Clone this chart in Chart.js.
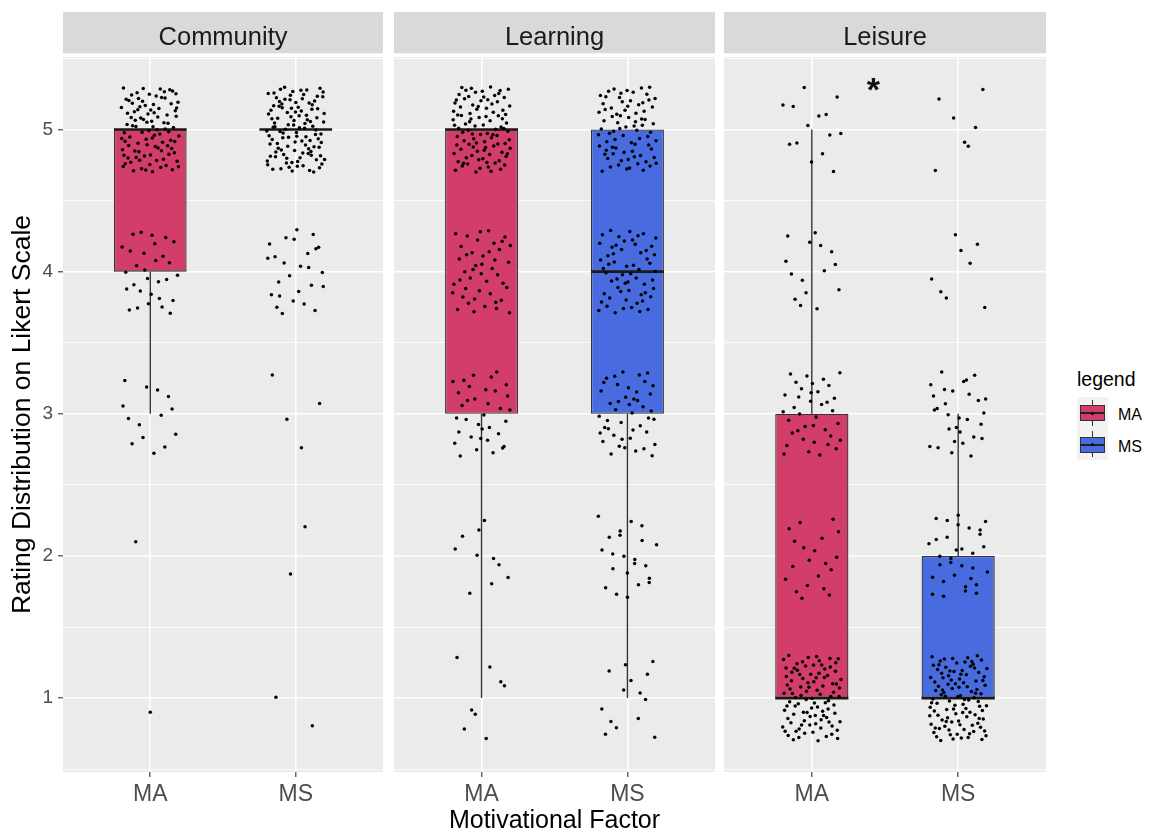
<!DOCTYPE html>
<html lang="en">
<head>
<meta charset="utf-8">
<title>Rating Distribution by Motivational Factor</title>
<script src="https://cdn.jsdelivr.net/npm/chart.js@4.4.1/dist/chart.umd.min.js"></script>
<style>
  html, body { margin: 0; padding: 0; background: #ffffff; }
  body { position: relative; width: 1153px; height: 834px; overflow: hidden;
         font-family: 'Liberation Sans', Arial, Helvetica, sans-serif; }
  canvas { position: absolute; top: 12px; }
  .lg { position: absolute; box-sizing: border-box; }
  .lg-text { position: absolute; color: #000; white-space: nowrap; }
</style>
</head>
<body>
<canvas id="facet0" width="383" height="822" style="left:0px"></canvas>
<canvas id="facet1" width="321" height="822" style="left:394px"></canvas>
<canvas id="facet2" width="322" height="822" style="left:724px"></canvas>
<div id="legend"></div>
<script>
// ---- data ---------------------------------------------------------------
const facets = ['Community', 'Learning', 'Leisure'];
const groups = ['MA', 'MS'];
const ratingLevels = [1, 2, 3, 4, 5];

// number of responses at each rating level 1..5
const communityMA = [1, 1, 14, 30, 100];
const communityMS = [2, 2, 4, 26, 112];
const learningMA  = [8, 10, 35, 45, 100];
const learningMS  = [14, 22, 45, 60, 80];
const leisureMA   = [98, 20, 38, 15, 14];
const leisureMS   = [108, 32, 30, 8, 7];

const yMajorTicks = [1, 2, 3, 4, 5];
const yMinorTicks = [0.5, 1.5, 2.5, 3.5, 4.5, 5.5];

// significance marker shown in the Leisure facet
const starLabel = '*';
const starFacet = 2;

// ---- styling --------------------------------------------------------------
const FONT = "'Liberation Sans', Arial, Helvetica, sans-serif";
const groupColors = ['#d23d69', '#486ce0'];
const PANEL_BG = '#ebebeb';
const STRIP_BG = '#d9d9d9';
const LINE_DARK = '#333333';
const JITTER_W = 0.2;   // horizontal jitter, category units
const JITTER_H = 0.3;   // vertical jitter, rating units
const BOX_HALF = 0.25;  // half box width, category units

const facetCounts = [
  [communityMA, communityMS],
  [learningMA, learningMS],
  [leisureMA, leisureMS]
];

// ---- boxplot statistics -------------------------------------------------
function expandCounts(counts) {
  const out = [];
  counts.forEach((n, i) => { for (let k = 0; k < n; k++) out.push(ratingLevels[i]); });
  return out;
}
function quantile(sorted, p) {
  const h = (sorted.length - 1) * p;
  const lo = Math.floor(h), hi = Math.ceil(h);
  return sorted[lo] + (h - lo) * (sorted[hi] - sorted[lo]);
}
function boxStats(counts) {
  const v = expandCounts(counts);
  const q1 = quantile(v, 0.25), med = quantile(v, 0.5), q3 = quantile(v, 0.75);
  const iqr = q3 - q1;
  const lo = Math.min(...v.filter(x => x >= q1 - 1.5 * iqr));
  const hi = Math.max(...v.filter(x => x <= q3 + 1.5 * iqr));
  return { q1, med, q3, lo, hi };
}

// ---- deterministic jitter (Halton sequence) -------------------------------
function halton(i, base) {
  let f = 1, r = 0;
  while (i > 0) { f /= base; r += f * (i % base); i = Math.floor(i / base); }
  return r;
}
let jitterIndex = 1;
function jitterPoints(counts, xPos) {
  const pts = [];
  counts.forEach((n, li) => {
    for (let k = 0; k < n; k++) {
      const j = jitterIndex++;
      pts.push({
        x: xPos + (halton(j, 2) - 0.5) * 2 * JITTER_W,
        y: ratingLevels[li] + (halton(j, 3) - 0.5) * 2 * JITTER_H
      });
    }
  });
  return pts;
}

// ---- plugins --------------------------------------------------------------
const facetStrip = {
  id: 'facetStrip',
  beforeDraw(chart, args, opts) {
    const { ctx, chartArea: a } = chart;
    ctx.save();
    ctx.fillStyle = PANEL_BG;
    ctx.fillRect(a.left, a.top, a.right - a.left, a.bottom - a.top);
    ctx.fillStyle = STRIP_BG;
    ctx.fillRect(a.left, 0, a.right - a.left, 41.3);
    ctx.fillStyle = '#1a1a1a';
    ctx.font = '25.5px ' + FONT;
    ctx.textAlign = 'center';
    ctx.textBaseline = 'alphabetic';
    ctx.fillText(opts.label, (a.left + a.right) / 2, 33);
    ctx.restore();
  }
};

const starNote = {
  id: 'starNote',
  afterDatasetsDraw(chart, args, opts) {
    if (!opts.show) return;
    const { ctx, scales } = chart;
    ctx.save();
    ctx.font = 'bold 34px ' + FONT;
    ctx.fillStyle = '#111';
    ctx.textAlign = 'center';
    ctx.textBaseline = 'alphabetic';
    const m = ctx.measureText(starLabel);
    const cx = scales.x.getPixelForValue(1.42);
    const cy = scales.y.getPixelForValue(5.32);
    ctx.fillText(starLabel, cx, cy + (m.actualBoundingBoxAscent - m.actualBoundingBoxDescent) / 2);
    ctx.restore();
  }
};

// ---- one chart per facet --------------------------------------------------
function makeFacet(idx) {
  const counts = facetCounts[idx];
  const stats = counts.map(boxStats);
  const points = counts.map((c, i) => jitterPoints(c, i + 1)).flat();
  const boxes = stats.map((s, i) => ({ x: i + 1, y: [s.q1, s.q3] }));
  const medians = [];
  const whiskers = [];
  stats.forEach((s, i) => {
    const x = i + 1;
    medians.push({ x: x - BOX_HALF, y: s.med }, { x: x + BOX_HALF, y: s.med }, { x: x + 0.5, y: null });
    whiskers.push({ x, y: s.lo }, { x, y: s.q1 }, { x, y: null },
                  { x, y: s.q3 }, { x, y: s.hi }, { x, y: null });
  });

  const first = idx === 0;
  const middle = idx === 1;

  return new Chart(document.getElementById('facet' + idx), {
    type: 'scatter',
    data: {
      datasets: [
        { type: 'scatter', data: points, pointRadius: 1.75, pointBackgroundColor: '#000',
          pointBorderWidth: 0, order: 0 },
        { type: 'line', data: medians, borderColor: '#1a1a1a', borderWidth: 2.6,
          pointRadius: 0, spanGaps: false, borderCapStyle: 'butt', order: 1 },
        { type: 'bar', data: boxes, backgroundColor: groupColors, borderColor: LINE_DARK,
          borderWidth: 1.3, borderSkipped: false, barPercentage: 0.5,
          categoryPercentage: 1, order: 2 },
        { type: 'line', data: whiskers, borderColor: LINE_DARK, borderWidth: 1.4,
          pointRadius: 0, spanGaps: false, order: 3 }
      ]
    },
    options: {
      responsive: false,
      animation: false,
      events: [],
      layout: { autoPadding: false, padding: { top: 45, left: 0, right: 0, bottom: 0 } },
      plugins: {
        legend: { display: false },
        tooltip: { enabled: false },
        facetStrip: { label: facets[idx] },
        starNote: { show: idx === starFacet }
      },
      scales: {
        x: {
          type: 'linear', min: 0.4, max: 2.6, bounds: 'data', offset: false,
          afterBuildTicks: s => { s.ticks = groups.map((g, i) => ({ value: i + 1 })); },
          afterFit: s => { s.height = 62; },
          ticks: {
            callback: v => groups[Math.round(v) - 1],
            color: '#4d4d4d', font: { family: FONT, size: 23, lineHeight: 1 },
            padding: 6, maxRotation: 0, autoSkip: false
          },
          grid: { offset: false, color: '#ffffff', lineWidth: 1.6, tickColor: LINE_DARK,
                  tickLength: 5, tickWidth: 1.1 },
          border: { display: false },
          title: {
            display: middle, text: 'Motivational Factor', color: '#000',
            font: { family: FONT, size: 25, lineHeight: 1 }, padding: { top: 0, bottom: 0 }
          }
        },
        y: {
          type: 'linear', min: 0.48, max: 5.51, bounds: 'data',
          afterBuildTicks: s => {
            s.ticks = yMinorTicks.concat(yMajorTicks).sort((a, b) => a - b).map(v => ({ value: v }));
          },
          afterFit: s => { s.width = first ? 63 : 0; },
          ticks: {
            display: first,
            callback: v => (yMajorTicks.includes(v) ? String(v) : ''),
            color: '#4d4d4d', font: { family: FONT, size: 19 }, padding: 5, autoSkip: false
          },
          grid: {
            color: '#ffffff',
            lineWidth: c => (yMajorTicks.includes(c.tick.value) ? 1.6 : 0.8),
            drawTicks: first,
            tickColor: c => (yMajorTicks.includes(c.tick.value) ? LINE_DARK : 'rgba(0,0,0,0)'),
            tickLength: 5, tickWidth: 1.1
          },
          border: { display: false },
          title: {
            display: first, text: 'Rating Distribution on Likert Scale', color: '#000',
            font: { family: FONT, size: 26.5, lineHeight: 1 }, padding: { top: 9, bottom: 0 }
          }
        }
      }
    },
    plugins: [facetStrip, starNote]
  });
}

facets.forEach((f, i) => makeFacet(i));

// ---- legend ---------------------------------------------------------------
const legendEl = document.getElementById('legend');
function addEl(cls, style, text) {
  const d = document.createElement('div');
  d.className = cls;
  Object.assign(d.style, style);
  if (text) d.textContent = text;
  legendEl.appendChild(d);
  return d;
}
addEl('lg-text', { left: '1077px', top: '369.5px', fontSize: '19.5px', lineHeight: '19.5px' }, 'legend');
groups.forEach((g, i) => {
  const top = 396.7 + i * 31.7;
  addEl('lg', { left: '1077px', top: top + 'px', width: '31.3px', height: '31.7px', background: '#f2f2f2' });
  addEl('lg', { left: '1091.9px', top: (top + 2.8) + 'px', width: '1.2px', height: '26.2px', background: LINE_DARK });
  addEl('lg', { left: '1080px', top: (top + 8.3) + 'px', width: '25px', height: '16.4px',
                background: groupColors[i], border: '1.2px solid ' + LINE_DARK });
  addEl('lg', { left: '1080px', top: (top + 15.6) + 'px', width: '25px', height: '1.5px', background: '#222' });
  addEl('lg', { left: '1091px', top: (top + 14.8) + 'px', width: '3px', height: '3px',
                background: '#000', borderRadius: '50%' });
  addEl('lg-text', { left: '1118px', top: (top + 10.5) + 'px', fontSize: '16px', lineHeight: '16px' }, g);
});
</script>
</body>
</html>
